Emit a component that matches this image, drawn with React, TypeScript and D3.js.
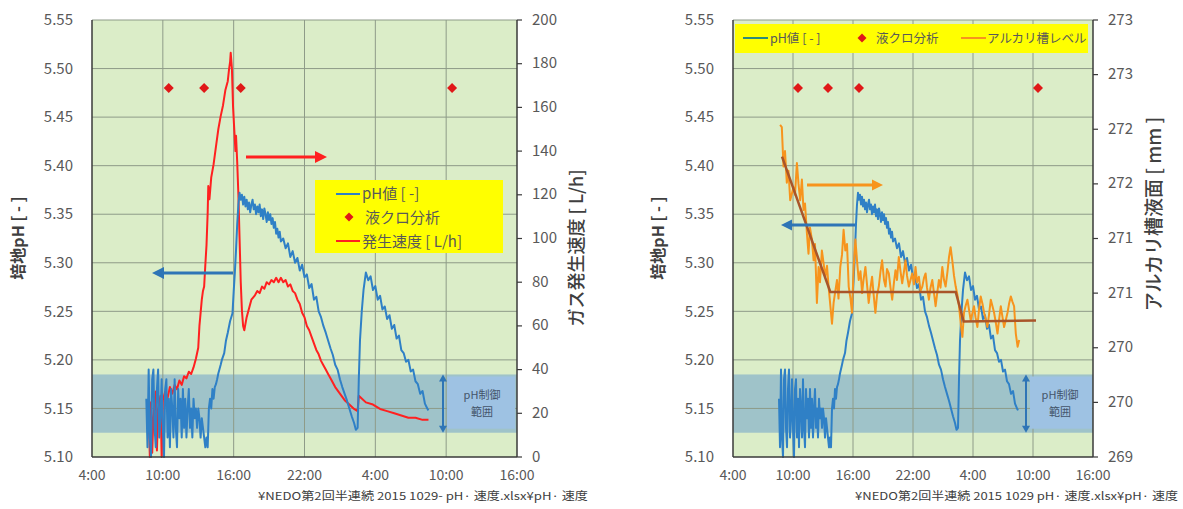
import React from "react";
import * as d3 from "d3";

// ---- axis ticks ----
const hourTicks = [0, 6, 12, 18, 24, 30, 36];
const hourLabels = ["4:00", "10:00", "16:00", "22:00", "4:00", "10:00", "16:00"];
const phTicks = [5.1, 5.15, 5.2, 5.25, 5.3, 5.35, 5.4, 5.45, 5.5, 5.55];
const gasTicks = [0, 20, 40, 60, 80, 100, 120, 140, 160, 180, 200];
const levelTicks = [269, 269.5, 270, 270.5, 271, 271.5, 272, 272.5, 273];

// pH control range
const controlBand = [5.125, 5.185];

// liquid chromatography sampling times (hours after 4:00) and plotted pH
const sampleHours = [6.5, 9.5, 12.6, 30.5];
const samplePh = 5.48;

// culture pH [hours after 4:00, pH]
const phSeries: [number, number][] = [
  [4.6, 5.16], [4.7, 5.11], [4.8, 5.19], [4.9, 5.12], [5.0, 5.1], [5.1, 5.18], [5.2, 5.19], [5.3, 5.13],
  [5.4, 5.11], [5.5, 5.17], [5.6, 5.19], [5.7, 5.12], [5.8, 5.14], [5.9, 5.18], [6.0, 5.13], [6.1, 5.1],
  [6.2, 5.17], [6.3, 5.18], [6.4, 5.12], [6.5, 5.16], [6.6, 5.11], [6.7, 5.17], [6.8, 5.15], [6.9, 5.12],
  [7.0, 5.18], [7.1, 5.13], [7.2, 5.11], [7.3, 5.17], [7.4, 5.14], [7.5, 5.16], [7.6, 5.12], [7.7, 5.17],
  [7.8, 5.13], [7.9, 5.16], [8.0, 5.12], [8.1, 5.15], [8.2, 5.17], [8.3, 5.13], [8.4, 5.15], [8.5, 5.12],
  [8.6, 5.16], [8.7, 5.14], [8.8, 5.15], [8.9, 5.13], [9.0, 5.15], [9.1, 5.14], [9.2, 5.12], [9.3, 5.14],
  [9.4, 5.13], [9.5, 5.12], [9.6, 5.11], [9.7, 5.12], [9.8, 5.11], [9.9, 5.15], [10.0, 5.16], [10.1, 5.15],
  [10.2, 5.17], [10.3, 5.16], [10.4, 5.172], [10.5, 5.175], [10.6, 5.18], [10.7, 5.186], [10.9, 5.195],
  [11.0, 5.2], [11.2, 5.207], [11.35, 5.22], [11.5, 5.228], [11.7, 5.24], [11.9, 5.248], [12.0, 5.27],
  [12.1, 5.29], [12.2, 5.313], [12.3, 5.34], [12.4, 5.36], [12.5, 5.372], [12.6, 5.365], [12.7, 5.37],
  [12.8, 5.36], [12.9, 5.368], [13.0, 5.358], [13.1, 5.365], [13.2, 5.355], [13.3, 5.362], [13.4, 5.352],
  [13.5, 5.36], [13.6, 5.365], [13.7, 5.355], [13.8, 5.36], [13.9, 5.35], [14.0, 5.358], [14.1, 5.352],
  [14.2, 5.36], [14.3, 5.348], [14.4, 5.355], [14.5, 5.345], [14.6, 5.356], [14.7, 5.35], [14.8, 5.342],
  [14.9, 5.352], [15.0, 5.344], [15.1, 5.35], [15.2, 5.34], [15.3, 5.346], [15.4, 5.336], [15.5, 5.342],
  [15.6, 5.33], [15.7, 5.335], [15.8, 5.326], [15.9, 5.332], [16.0, 5.322], [16.2, 5.325], [16.4, 5.315],
  [16.6, 5.32], [16.8, 5.306], [17.0, 5.312], [17.2, 5.3], [17.4, 5.305], [17.6, 5.292], [17.8, 5.298],
  [18.0, 5.285], [18.2, 5.288], [18.4, 5.274], [18.6, 5.278], [18.8, 5.262], [19.0, 5.265], [19.2, 5.25],
  [19.4, 5.244], [19.6, 5.235], [19.8, 5.228], [20.0, 5.22], [20.2, 5.212], [20.4, 5.205], [20.6, 5.195],
  [20.8, 5.19], [21.0, 5.18], [21.2, 5.172], [21.4, 5.165], [21.6, 5.158], [21.8, 5.15], [22.0, 5.142],
  [22.2, 5.135], [22.35, 5.128], [22.5, 5.13], [22.6, 5.18], [22.7, 5.22], [22.85, 5.25], [23.0, 5.272],
  [23.2, 5.29], [23.4, 5.282], [23.6, 5.286], [23.8, 5.272], [24.0, 5.276], [24.2, 5.262], [24.4, 5.266],
  [24.6, 5.252], [24.8, 5.255], [25.0, 5.242], [25.2, 5.246], [25.4, 5.232], [25.6, 5.236], [25.8, 5.222],
  [26.0, 5.225], [26.2, 5.21], [26.4, 5.207], [26.6, 5.198], [26.8, 5.2], [27.0, 5.188], [27.2, 5.19],
  [27.4, 5.178], [27.6, 5.175], [27.8, 5.165], [28.0, 5.168], [28.2, 5.155], [28.4, 5.15], [28.5, 5.148],
];

// gas generation rate [hours after 4:00, L/h]
const gasSeries: [number, number][] = [
  [4.8, 20], [4.9, 0], [5.0, 25], [5.1, 2], [5.2, 18], [5.4, 30], [5.5, 3], [5.6, 22], [5.8, 28], [5.9, 0],
  [6.0, 26], [6.2, 30], [6.4, 27], [6.6, 32], [6.8, 29], [7.0, 33], [7.2, 31], [7.4, 35], [7.6, 33], [7.8, 37],
  [8.0, 36], [8.2, 39], [8.4, 38], [8.6, 41], [8.8, 45], [9.0, 50], [9.1, 60], [9.2, 66], [9.3, 72], [9.4, 76],
  [9.5, 78], [9.6, 88], [9.7, 97], [9.8, 112], [9.85, 124], [9.95, 118], [10.1, 128], [10.3, 134], [10.5, 142],
  [10.7, 150], [10.9, 156], [11.1, 161], [11.3, 168], [11.5, 172], [11.6, 177], [11.7, 181], [11.75, 185],
  [11.85, 178], [11.95, 160], [12.05, 150], [12.15, 140], [12.2, 147], [12.3, 135], [12.4, 120], [12.5, 100],
  [12.6, 80], [12.7, 67], [12.8, 60], [12.9, 58], [13.1, 64], [13.3, 68], [13.5, 72], [13.8, 74], [14.0, 76],
  [14.2, 75], [14.4, 78], [14.6, 77], [14.8, 80], [15.0, 79], [15.2, 81], [15.4, 80], [15.6, 82], [15.8, 80],
  [16.0, 82], [16.2, 80], [16.4, 81], [16.6, 78], [16.8, 79], [17.0, 76], [17.2, 75], [17.4, 72], [17.6, 70],
  [17.8, 66], [18.0, 64], [18.2, 60], [18.4, 58], [18.6, 55], [18.8, 52], [19.0, 49], [19.2, 47], [19.4, 44],
  [19.6, 42], [19.8, 40], [20.0, 38], [20.2, 36], [20.6, 32], [21.0, 29], [21.4, 26], [21.8, 24], [22.2, 22],
  [22.5, 21], [22.6, 28], [22.8, 27], [23.2, 25], [23.8, 24], [24.4, 22], [25.0, 21], [25.6, 20], [26.2, 19],
  [26.8, 18], [27.4, 18], [28.0, 17], [28.5, 17],
];

// alkali tank level [hours after 4:00, mm]
const levelSeries: [number, number][] = [
  [4.71, 272.04], [4.88, 272.02], [5.05, 271.66], [5.2, 271.8], [5.38, 271.51], [5.55, 271.62], [5.72, 271.35],
  [6.05, 271.47], [6.2, 271.4], [6.39, 271.69], [6.55, 271.5], [6.72, 271.35], [6.89, 271.54], [7.05, 271.26],
  [7.2, 271.32], [7.39, 271.05], [7.55, 270.86], [7.7, 271.1], [7.89, 270.99], [8.06, 270.8], [8.2, 270.95],
  [8.39, 270.41], [8.56, 270.74], [8.7, 270.6], [8.89, 270.89], [9.05, 270.78], [9.23, 270.65], [9.4, 270.75],
  [9.56, 270.56], [9.9, 270.22], [10.06, 270.41], [10.2, 270.5], [10.4, 270.62], [10.55, 270.45], [10.73, 270.74],
  [10.9, 270.85], [11.06, 271.08], [11.23, 270.89], [11.4, 270.95], [11.57, 270.56], [11.75, 270.45],
  [11.9, 270.32], [12.07, 270.74], [12.24, 270.99], [12.4, 270.8], [12.57, 270.62], [12.75, 270.7],
  [12.91, 270.5], [13.05, 270.62], [13.24, 270.74], [13.4, 270.58], [13.57, 270.41], [13.75, 270.55],
  [13.91, 270.65], [14.05, 270.5], [14.24, 270.32], [14.4, 270.48], [14.58, 270.56], [14.75, 270.7],
  [14.91, 270.8], [15.1, 270.62], [15.25, 270.56], [15.4, 270.72], [15.58, 270.68], [15.75, 270.55],
  [15.92, 270.44], [16.1, 270.6], [16.25, 270.71], [16.4, 270.62], [16.58, 270.83], [16.75, 270.7],
  [16.92, 270.59], [17.1, 270.7], [17.25, 270.8], [17.4, 270.66], [17.59, 270.56], [17.75, 270.62],
  [17.92, 270.68], [18.1, 270.58], [18.25, 270.74], [18.4, 270.6], [18.59, 270.65], [18.75, 270.52],
  [18.93, 270.56], [19.1, 270.64], [19.26, 270.68], [19.4, 270.55], [19.59, 270.44], [19.75, 270.55],
  [19.93, 270.62], [20.1, 270.5], [20.26, 270.38], [20.45, 270.52], [20.59, 270.62], [20.75, 270.55],
  [20.93, 270.74], [21.1, 270.62], [21.26, 270.56], [21.45, 270.7], [21.6, 270.83], [21.76, 270.92],
  [21.93, 270.8], [22.1, 270.66], [22.27, 270.56], [22.45, 270.48], [22.6, 270.38], [22.8, 270.2],
  [22.94, 270.1], [23.1, 270.32], [23.25, 270.38], [23.44, 270.44], [23.6, 270.35], [23.77, 270.25],
  [23.95, 270.32], [24.1, 270.38], [24.25, 270.28], [24.44, 270.19], [24.6, 270.35], [24.77, 270.47],
  [24.95, 270.4], [25.11, 270.32], [25.3, 270.25], [25.44, 270.19], [25.6, 270.3], [25.78, 270.44],
  [25.95, 270.38], [26.11, 270.32], [26.3, 270.22], [26.45, 270.13], [26.6, 270.25], [26.78, 270.38],
  [26.95, 270.28], [27.11, 270.19], [27.3, 270.26], [27.45, 270.32], [27.6, 270.4], [27.78, 270.47],
  [27.95, 270.42], [28.11, 270.38], [28.28, 270.13], [28.46, 270.01], [28.62, 270.07],
];

// piecewise trend of the alkali tank level [hours after 4:00, mm]
const levelTrend: [number, number][] = [
  [4.9, 271.75], [9.73, 270.51], [22.27, 270.51], [23.07, 270.24], [30.3, 270.25],
];

// ---- styling ----
const TOP = 20;
const BOTTOM = 457;
const FONT = "'Noto Sans CJK JP', 'Noto Sans', sans-serif";
const PLOT_BG = "#dbedc8";
const GRID = "#8e9b88";
const AXIS = "#3a3a3a";
const BAND = "#9fc3c9";
const BOX = "#9ec2e3";
const LABEL = "#595959";
const PH_COLOR = "#2f80c6";
const GAS_COLOR = "#ff2020";
const LEVEL_COLOR = "#f7941d";
const TREND_COLOR = "#a9552a";
const SAMPLE_COLOR = "#e01818";
const LEGEND_BG = "#ffff00";

function Arrow({ x1, y1, x2, y2, color, width = 3, head = 11 }: any) {
  const ang = Math.atan2(y2 - y1, x2 - x1);
  const bx = x2 - head * Math.cos(ang);
  const by = y2 - head * Math.sin(ang);
  const hw = head * 0.5;
  const px = -Math.sin(ang) * hw;
  const py = Math.cos(ang) * hw;
  return (
    <g>
      <line x1={x1} y1={y1} x2={bx} y2={by} stroke={color} strokeWidth={width} />
      <polygon points={`${x2},${y2} ${bx + px},${by + py} ${bx - px},${by - py}`} fill={color} />
    </g>
  );
}

function DoubleArrow({ x, y1, y2, color }: any) {
  const h = 6;
  return (
    <g>
      <line x1={x} y1={y1 + h} x2={x} y2={y2 - h} stroke={color} strokeWidth={2} />
      <polygon points={`${x},${y1} ${x - 4},${y1 + h + 1} ${x + 4},${y1 + h + 1}`} fill={color} />
      <polygon points={`${x},${y2} ${x - 4},${y2 - h - 1} ${x + 4},${y2 - h - 1}`} fill={color} />
    </g>
  );
}

function Diamond({ cx, cy, r = 5, color }: any) {
  return <polygon points={`${cx},${cy - r} ${cx + r},${cy} ${cx},${cy + r} ${cx - r},${cy}`} fill={color} />;
}

function Frame({ x, y, x0, x1 }: any) {
  return (
    <g>
      <rect x={x0} y={TOP} width={x1 - x0} height={BOTTOM - TOP} fill={PLOT_BG} />
      <rect x={x0} y={y(controlBand[1])} width={x1 - x0} height={y(controlBand[0]) - y(controlBand[1])} fill={BAND} />
      {phTicks.slice(1).map((t) => (
        <line key={t} x1={x0} x2={x1} y1={y(t)} y2={y(t)} stroke={GRID} strokeWidth={1} />
      ))}
      {hourTicks.slice(1, -1).map((h) => (
        <line key={h} x1={x(h)} x2={x(h)} y1={TOP} y2={BOTTOM} stroke={GRID} strokeWidth={1} />
      ))}
    </g>
  );
}

function Axes({ x, y, x0, x1 }: any) {
  return (
    <g fontFamily={FONT} fill={LABEL}>
      <line x1={x0} x2={x0} y1={TOP} y2={BOTTOM} stroke={AXIS} strokeWidth={1.5} />
      <line x1={x0} x2={x1} y1={BOTTOM} y2={BOTTOM} stroke={AXIS} strokeWidth={1.5} />
      <line x1={x1} x2={x1} y1={TOP} y2={BOTTOM} stroke={AXIS} strokeWidth={1.5} />
      {phTicks.map((t) => (
        <text key={t} x={x0 - 19} y={y(t)} dy="0.35em" textAnchor="end" fontSize={15}>
          {d3.format(".2f")(t)}
        </text>
      ))}
      {hourTicks.map((h, i) => (
        <text key={h} x={x(h)} y={BOTTOM + 23} textAnchor="middle" fontSize={14}>
          {hourLabels[i]}
        </text>
      ))}
    </g>
  );
}

function RightAxis({ scale, ticks, x1, fmt }: any) {
  return (
    <g fontFamily={FONT} fill={LABEL}>
      {ticks.map((t: number) => (
        <g key={t}>
          <line x1={x1} x2={x1 + 5} y1={scale(t)} y2={scale(t)} stroke={AXIS} strokeWidth={1.2} />
          <text x={x1 + 15} y={scale(t)} dy="0.3em" fontSize={15}>
            {fmt(t)}
          </text>
        </g>
      ))}
    </g>
  );
}

function BandNote({ x, y1, y2, boxX, boxW }: any) {
  return (
    <g>
      <rect x={boxX} y={y1 + 2} width={boxW} height={y2 - y1 - 6} fill={BOX} />
      <DoubleArrow x={boxX - 4} y1={y1} y2={y2} color="#2e75b6" />
      <text x={x} y={y1 + 25} textAnchor="middle" fontSize={11} fontFamily={FONT} fill="#44546a">
        pH制御
      </text>
      <text x={x} y={y1 + 42} textAnchor="middle" fontSize={11} fontFamily={FONT} fill="#44546a">
        範囲
      </text>
    </g>
  );
}

export default function App() {
  // ---- left panel: pH and gas generation rate ----
  const L0 = 92;
  const L1 = 517;
  const xL = d3.scaleLinear().domain([0, 36]).range([L0, L1]);
  const yPh = d3.scaleLinear().domain([5.1, 5.55]).range([BOTTOM, TOP]);
  const yGas = d3.scaleLinear().domain([0, 200]).range([BOTTOM, TOP]);
  const phLineL = d3.line<[number, number]>().x((d) => xL(d[0])).y((d) => yPh(d[1]));
  const gasLine = d3.line<[number, number]>().x((d) => xL(d[0])).y((d) => yGas(d[1]));

  // ---- right panel: pH and alkali tank level ----
  const R0 = 733;
  const R1 = 1093;
  const xR = d3.scaleLinear().domain([0, 36]).range([R0, R1]);
  const yLevel = d3.scaleLinear().domain([269, 273]).range([BOTTOM, TOP]);
  const phLineR = d3.line<[number, number]>().x((d) => xR(d[0])).y((d) => yPh(d[1]));
  const levelLine = d3.line<[number, number]>().x((d) => xR(d[0])).y((d) => yLevel(d[1]));

  const bandTop = yPh(controlBand[1]);
  const bandBottom = yPh(controlBand[0]);

  return (
    <svg
      width={1183}
      height={509}
      style={{ position: "absolute", left: 0, top: 0, background: "#ffffff" }}
      fontFamily={FONT}
    >
      {/* left panel */}
      <Frame x={xL} y={yPh} x0={L0} x1={L1} />
      <BandNote x={482} y1={bandTop} y2={bandBottom} boxX={447} boxW={L1 - 449} />
      <path d={gasLine(gasSeries) || ""} fill="none" stroke={GAS_COLOR} strokeWidth={2} strokeLinejoin="round" />
      <path d={phLineL(phSeries) || ""} fill="none" stroke={PH_COLOR} strokeWidth={2} strokeLinejoin="round" />
      {sampleHours.map((h) => (
        <Diamond key={h} cx={xL(h)} cy={yPh(samplePh)} r={5} color={SAMPLE_COLOR} />
      ))}
      <Arrow x1={246} y1={157} x2={327} y2={157} color={GAS_COLOR} width={3} head={12} />
      <Arrow x1={233} y1={273} x2={152} y2={273} color="#2e75b6" width={3} head={12} />
      <Axes x={xL} y={yPh} x0={L0} x1={L1} />
      <RightAxis scale={yGas} ticks={gasTicks} x1={L1} fmt={(d: number) => String(d)} />

      {/* left legend */}
      <rect x={315} y={180} width={188} height={73} fill={LEGEND_BG} />
      <g fontFamily={FONT} fontSize={15} fill={LABEL}>
        <line x1={336} x2={360} y1={194} y2={194} stroke={PH_COLOR} strokeWidth={2} />
        <text x={362} y={199}>pH値 [ -]</text>
        <Diamond cx={349} cy={217} r={4.5} color={SAMPLE_COLOR} />
        <text x={365} y={223}>液クロ分析</text>
        <line x1={336} x2={360} y1={241} y2={241} stroke={GAS_COLOR} strokeWidth={2} />
        <text x={362} y={247}>発生速度 [ L/h]</text>
      </g>

      {/* left axis titles */}
      <text transform={`translate(24,238) rotate(-90)`} textAnchor="middle" fontSize={16} fontWeight={700} fill="#404040">
        培地pH [ - ]
      </text>
      <text transform={`translate(583,248) rotate(-90)`} textAnchor="middle" fontSize={18} fontWeight={500} fill="#404040">
        ガス発生速度 [ L/h]
      </text>
      <text x={588} y={500} textAnchor="end" fontSize={11} fill="#404040" textLength={330} lengthAdjust="spacingAndGlyphs">
        ¥NEDO第2回半連続 2015 1029- pH· 速度.xlsx¥pH· 速度
      </text>

      {/* right panel */}
      <Frame x={xR} y={yPh} x0={R0} x1={R1} />
      <BandNote x={1060} y1={bandTop} y2={bandBottom} boxX={1030} boxW={R1 - 1031} />
      <path d={phLineR(phSeries) || ""} fill="none" stroke={PH_COLOR} strokeWidth={2} strokeLinejoin="round" />
      <path d={levelLine(levelSeries) || ""} fill="none" stroke={LEVEL_COLOR} strokeWidth={2} strokeLinejoin="round" />
      <path d={levelLine(levelTrend) || ""} fill="none" stroke={TREND_COLOR} strokeWidth={2.5} />
      {sampleHours.map((h) => (
        <Diamond key={h} cx={xR(h)} cy={yPh(samplePh)} r={5} color={SAMPLE_COLOR} />
      ))}
      <Arrow x1={807} y1={185} x2={883} y2={185} color={LEVEL_COLOR} width={3} head={11} />
      <Arrow x1={855} y1={225} x2={781} y2={225} color="#2e75b6" width={3} head={11} />
      <Axes x={xR} y={yPh} x0={R0} x1={R1} />
      <RightAxis scale={yLevel} ticks={levelTicks} x1={R1} fmt={(d: number) => String(Math.round(d))} />

      {/* right legend */}
      <rect x={735} y={24} width={353} height={29} fill={LEGEND_BG} />
      <g fontFamily={FONT} fontSize={12.5} fill={LABEL}>
        <line x1={743} x2={768} y1={38} y2={38} stroke="#2e8b7a" strokeWidth={2} />
        <text x={770} y={43}>pH値 [ - ]</text>
        <Diamond cx={862} cy={38} r={4.5} color={SAMPLE_COLOR} />
        <text x={876} y={43}>液クロ分析</text>
        <line x1={961} x2={986} y1={38} y2={38} stroke={LEVEL_COLOR} strokeWidth={2} />
        <text x={987} y={43}>アルカリ槽レベル</text>
      </g>

      {/* right axis titles */}
      <text transform={`translate(664,238) rotate(-90)`} textAnchor="middle" fontSize={16} fontWeight={700} fill="#404040">
        培地pH [ - ]
      </text>
      <text transform={`translate(1161,214) rotate(-90)`} textAnchor="middle" fontSize={19} fontWeight={500} fill="#404040">
        アルカリ槽液面 [ mm ]
      </text>
      <text x={1178} y={500} textAnchor="end" fontSize={11} fill="#404040" textLength={323} lengthAdjust="spacingAndGlyphs">
        ¥NEDO第2回半連続 2015 1029 pH· 速度.xlsx¥pH· 速度
      </text>
    </svg>
  );
}
